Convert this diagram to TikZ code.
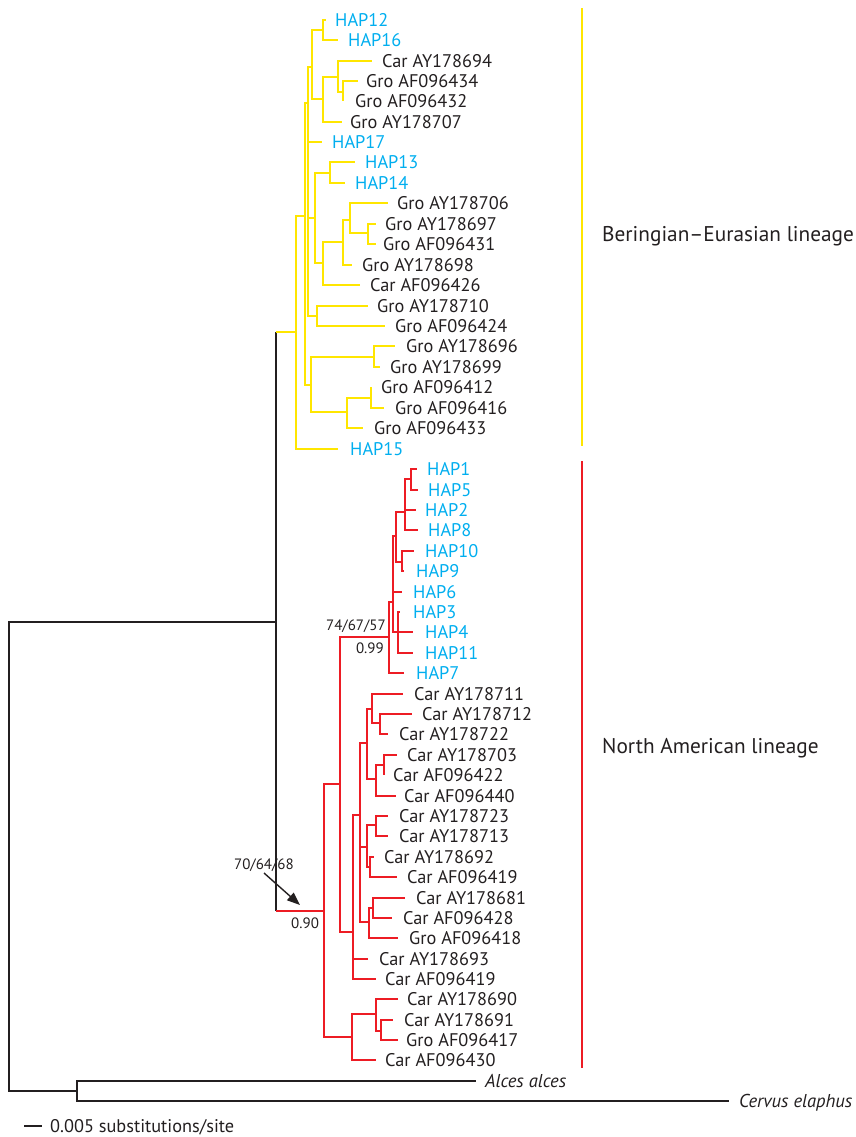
\documentclass[tikz,border=0pt]{standalone}
\usepackage{fontspec}
\setmainfont{PT Sans}
\usetikzlibrary{arrows.meta}
\definecolor{yel}{RGB}{255,230,0}
\definecolor{tred}{RGB}{237,28,36}
\definecolor{hapc}{RGB}{0,174,239}
\definecolor{txt}{RGB}{35,31,32}
\newcommand\lf[6]{\coordinate (#1) at (#2,#4); \node[#6] (#1t) at (#3,#4) {#5};}
\newcommand\kids[3]{\foreach \c in {#3} {\draw[#1] (#2) |- (\c);}}
\begin{document}
\begin{tikzpicture}[x=1pt,y=-1pt,
  ybr/.style={draw=yel, line width=2pt},
  rbr/.style={draw=tred, line width=2pt},
  kbr/.style={draw=txt, line width=1.7pt},
  lab/.style={anchor=west, inner sep=0pt, text height=13pt, text depth=0pt, font=\fontsize{18.3}{18}\selectfont, text=txt},
  hap/.style={lab, text=hapc},
  ital/.style={lab, font=\fontsize{18.6}{18}\selectfont\itshape},
  boot/.style={inner sep=0pt, text height=10.5pt, text depth=0pt, font=\fontsize{15}{15}\selectfont, text=txt},
  lin/.style={anchor=west, inner sep=0pt, font=\fontsize{21.3}{21}\selectfont, text=txt},
  bar/.style={line width=2pt}]
\useasboundingbox (0,0) rectangle (855,1137);

% ---------- backbone ----------
\coordinate (ROOT) at (9,856);
\coordinate (IN) at (276,622);
\coordinate (OG) at (77,1091);
\coordinate (R) at (296,332);
\coordinate (RT) at (324,911);
\draw[kbr] (ROOT) |- (IN);
\draw[kbr] (ROOT) |- (OG);
\draw[kbr] (IN) -- (IN |- R);
\draw[kbr] (IN) -- (IN |- RT);
\draw[ybr] (IN |- R) -- (R);
\draw[rbr] (IN |- RT) -- (RT);

% ---------- outgroup ----------
\lf{alces}{476}{485}{1081}{Alces alces}{ital}
\lf{cervus}{729}{739}{1101}{Cervus elaphus}{ital}
\kids{kbr}{OG}{alces,cervus}

% ---------- yellow clade ----------
\lf{hap12}{326}{335}{20}{HAP12}{hap}
\lf{hap16}{338}{348}{40}{HAP16}{hap}
\lf{c694}{372}{382}{61}{Car AY178694}{lab}
\lf{g434}{358}{366}{81}{Gro AF096434}{lab}
\lf{g432}{343}{355}{101}{Gro AF096432}{lab}
\lf{g707}{342}{350}{122}{Gro AY178707}{lab}
\lf{hap17}{322}{332}{142}{HAP17}{hap}
\lf{hap13}{355}{365}{162}{HAP13}{hap}
\lf{hap14}{345}{355}{183}{HAP14}{hap}
\lf{g706}{388}{397}{203}{Gro AY178706}{lab}
\lf{g697}{376}{385}{224}{Gro AY178697}{lab}
\lf{g431}{376}{383}{244}{Gro AF096431}{lab}
\lf{g698}{352}{362}{265}{Gro AY178698}{lab}
\lf{c426}{360}{370}{285}{Car AF096426}{lab}
\lf{g710}{368}{377}{306}{Gro AY178710}{lab}
\lf{g424}{385}{395}{326}{Gro AF096424}{lab}
\lf{g696}{395}{406}{346}{Gro AY178696}{lab}
\lf{g699}{380}{390}{367}{Gro AY178699}{lab}
\lf{g412}{371}{381}{387}{Gro AF096412}{lab}
\lf{g416}{384}{395}{408}{Gro AF096416}{lab}
\lf{g433}{363}{374}{428}{Gro AF096433}{lab}
\lf{hap15}{338}{350}{449}{HAP15}{hap}

\coordinate (S) at (305,216);
\coordinate (F2) at (308,103);
\coordinate (E) at (312,67);
\coordinate (N1216) at (323,30);
\coordinate (B) at (323,99);
\coordinate (C) at (338,77);
\coordinate (D) at (343,92);
\coordinate (K) at (315,218);
\coordinate (N1314) at (330,173);
\coordinate (G) at (323,263);
\coordinate (H) at (343,242);
\coordinate (I) at (350,220);
\coordinate (J) at (368,233);
\coordinate (Q) at (317,316);
\coordinate (L) at (311,385);
\coordinate (M) at (374,357);
\coordinate (Nn) at (347,412);
\coordinate (O) at (371,398);

\kids{ybr}{R}{S,hap15}
\kids{ybr}{S}{F2,L}
\kids{ybr}{F2}{E,hap17,K,Q}
\kids{ybr}{E}{N1216,B}
\kids{ybr}{N1216}{hap12,hap16}
\kids{ybr}{B}{C,g707}
\kids{ybr}{C}{c694,D}
\kids{ybr}{D}{g434,g432}
\kids{ybr}{K}{N1314,G}
\kids{ybr}{N1314}{hap13,hap14}
\kids{ybr}{G}{H,c426}
\kids{ybr}{H}{I,g698}
\kids{ybr}{I}{g706,J}
\kids{ybr}{J}{g697,g431}
\kids{ybr}{Q}{g710,g424}
\kids{ybr}{L}{M,Nn}
\kids{ybr}{M}{g696,g699}
\kids{ybr}{Nn}{O,g433}
\kids{ybr}{O}{g412,g416}

% ---------- red clade ----------
\lf{hap1}{417}{427}{469}{HAP1}{hap}
\lf{hap5}{418}{428}{490}{HAP5}{hap}
\lf{hap2}{416}{425}{510}{HAP2}{hap}
\lf{hap8}{418}{428}{530}{HAP8}{hap}
\lf{hap10}{414}{425}{551}{HAP10}{hap}
\lf{hap9}{404}{416}{571}{HAP9}{hap}
\lf{hap6}{402}{413}{592}{HAP6}{hap}
\lf{hap3}{400}{413}{612}{HAP3}{hap}
\lf{hap4}{413}{425}{632}{HAP4}{hap}
\lf{hap11}{413}{425}{653}{HAP11}{hap}
\lf{hap7}{404}{416}{673}{HAP7}{hap}
\lf{c711}{403}{414}{694}{Car AY178711}{lab}
\lf{c712}{412}{422}{714}{Car AY178712}{lab}
\lf{c722}{388}{399}{734}{Car AY178722}{lab}
\lf{c703}{397}{407}{755}{Car AY178703}{lab}
\lf{c422}{384}{393}{775}{Car AF096422}{lab}
\lf{c440}{396}{404}{796}{Car AF096440}{lab}
\lf{c723}{388}{399}{816}{Car AY178723}{lab}
\lf{c713}{388}{399}{836}{Car AY178713}{lab}
\lf{c692}{374}{384}{857}{Car AY178692}{lab}
\lf{c419a}{397}{407}{877}{Car AF096419}{lab}
\lf{c681}{405}{416}{898}{Car AY178681}{lab}
\lf{c428}{392}{403}{918}{Car AF096428}{lab}
\lf{g418}{398}{409}{938}{Gro AF096418}{lab}
\lf{c693}{368}{379}{959}{Car AY178693}{lab}
\lf{c419b}{376}{385}{979}{Car AF096419}{lab}
\lf{c690}{398}{407}{999}{Car AY178690}{lab}
\lf{c691}{393}{404}{1020}{Car AY178691}{lab}
\lf{g417}{398}{406}{1040}{Gro AF096417}{lab}
\lf{c430}{376}{385}{1060}{Car AF096430}{lab}

\coordinate (V) at (340,784);
\coordinate (W) at (352,1037);
\coordinate (Z) at (389,637);
\coordinate (NN) at (393,602);
\coordinate (OO) at (396,536);
\coordinate (QQ) at (405,512);
\coordinate (H1) at (411,479);
\coordinate (RR) at (402,562);
\coordinate (PP) at (398,632);
\coordinate (AA) at (353,932);
\coordinate (MM) at (360,815);
\coordinate (CC) at (367,743);
\coordinate (DD) at (372,709);
\coordinate (FF) at (380,723);
\coordinate (EE) at (376,779);
\coordinate (GG) at (384,765);
\coordinate (HH) at (367,847);
\coordinate (II) at (376,825);
\coordinate (JJ) at (370,867);
\coordinate (KK) at (369,922);
\coordinate (LL) at (373,908);
\coordinate (X) at (376,1014);
\coordinate (Y) at (381,1031);

\kids{rbr}{RT}{V,W}
\kids{rbr}{V}{Z,AA}
\kids{rbr}{Z}{NN,hap7}
\kids{rbr}{NN}{OO,hap6,PP}
\kids{rbr}{OO}{QQ,RR}
\kids{rbr}{QQ}{H1,hap2,hap8}
\kids{rbr}{H1}{hap1,hap5}
\kids{rbr}{RR}{hap10,hap9}
\kids{rbr}{PP}{hap3,hap4,hap11}
\kids{rbr}{AA}{MM,c693,c419b}
\kids{rbr}{MM}{CC,HH,KK}
\kids{rbr}{CC}{DD,EE}
\kids{rbr}{DD}{c711,FF}
\kids{rbr}{FF}{c712,c722}
\kids{rbr}{EE}{GG,c440}
\kids{rbr}{GG}{c703,c422}
\kids{rbr}{HH}{II,JJ}
\kids{rbr}{II}{c723,c713}
\kids{rbr}{JJ}{c692,c419a}
\kids{rbr}{KK}{LL,g418}
\kids{rbr}{LL}{c681,c428}
\kids{rbr}{W}{X,c430}
\kids{rbr}{X}{c690,Y}
\kids{rbr}{Y}{c691,g417}

% ---------- support values ----------
\node[boot, anchor=east] (b1) at (386,625) {74/67/57};
\node[boot, anchor=east] (b2) at (384,648) {0.99};
\node[boot, anchor=east] (b3) at (294,864) {70/64/68};
\node[boot, anchor=west] (b4) at (291,923) {0.90};
\coordinate (arS) at (264,873);
\coordinate (arE) at (300,905);
\draw[kbr, line width=1.4pt, -{Triangle[length=13pt,width=10pt]}] (arS) -- (arE);

% ---------- lineage bars ----------
\coordinate (yb1) at (582,8);
\coordinate (yb2) at (582,446);
\coordinate (rb1) at (582,461);
\coordinate (rb2) at (582,1068);
\draw[bar, draw=yel] (yb1) -- (yb2);
\draw[bar, draw=tred] (rb1) -- (rb2);
\node[lin] (lb1) at (602,236) {Beringian–Eurasian lineage};
\node[lin] (lb2) at (602,748) {North American lineage};

% ---------- scale ----------
\coordinate (sc1) at (24,1126);
\coordinate (sc2) at (42,1126);
\draw[kbr] (sc1) -- (sc2);
\node[lab] (sct) at (50,1126) {0.005 substitutions/site};
\end{tikzpicture}
\end{document}
